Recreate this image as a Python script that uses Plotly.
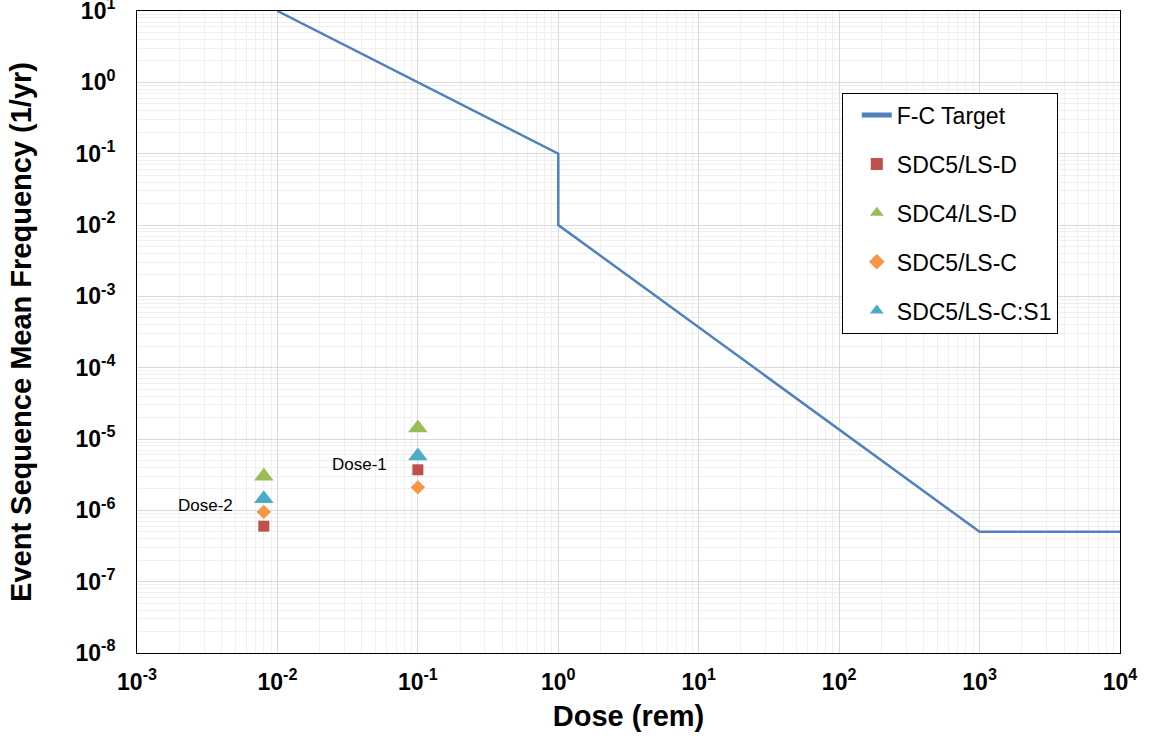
import math
import plotly.graph_objects as go

# F-C target curve
fc_dose = [0.01, 1.0, 1.0, 1000.0, 10000.0]
fc_freq = [10.0, 0.1, 0.01, 5e-7, 5e-7]

# Dose points: Dose-2, Dose-1
dose_x = [0.008, 0.1]
sdc5_lsd = [6.0e-7, 3.7e-6]
sdc4_lsd = [3.0e-6, 1.43e-5]
sdc5_lsc = [9.5e-7, 2.1e-6]
sdc5_lsc_s1 = [1.45e-6, 5.8e-6]
dose_labels = ["Dose-2", "Dose-1"]
dose_label_y = [1.16e-6, 4.35e-6]

x_exps = list(range(-3, 5))
y_exps = list(range(-8, 2))

fig = go.Figure()
fig.add_trace(go.Scatter(x=fc_dose, y=fc_freq, mode="lines", name="F-C Target", legendgroup="a",
                         line=dict(color="#4F81BD", width=2.5)))
fig.add_trace(go.Scatter(x=dose_x, y=sdc5_lsd, mode="markers", name="SDC5/LS-D", legendgroup="b",
                         marker=dict(symbol="square", color="#C0504D", size=11)))
fig.add_trace(go.Scatter(x=dose_x, y=sdc4_lsd, mode="markers", name="SDC4/LS-D", legendgroup="c",
                         marker=dict(symbol="triangle-up", color="#9BBB59", size=17)))
fig.add_trace(go.Scatter(x=dose_x, y=sdc5_lsc, mode="markers", name="SDC5/LS-C", legendgroup="d",
                         marker=dict(symbol="diamond", color="#F79646", size=11)))
fig.add_trace(go.Scatter(x=dose_x, y=sdc5_lsc_s1, mode="markers", name="SDC5/LS-C:S1", legendgroup="e",
                         marker=dict(symbol="triangle-up", color="#4BACC6", size=17)))

for xv, yv, txt in zip(dose_x, dose_label_y, dose_labels):
    fig.add_annotation(x=math.log10(xv), y=math.log10(yv), xref="x", yref="y", text=txt,
                       showarrow=False, xanchor="right", yanchor="middle", xshift=-29,
                       font=dict(family="Liberation Sans, Arial", size=17, color="#000"))

x_minor = [m * 10 ** e for e in x_exps[:-1] for m in range(2, 10)]
y_minor = [m * 10 ** e for e in y_exps[:-1] for m in range(2, 10)]

font_family = "Liberation Sans, Arial"
tickfont = dict(family=font_family, size=23, color="#000")
fig.update_xaxes(type="log", range=[-3, 4],
                 tickvals=[10 ** e for e in x_exps],
                 ticktext=[f"<b>10<sup>{e}</sup></b>" for e in x_exps],
                 tickfont=tickfont, ticks="", ticklabelstandoff=8, ticklabeloverflow="allow",
                 showgrid=True, gridcolor="#D9D9D9", gridwidth=1,
                 minor=dict(tickvals=x_minor, showgrid=True, gridcolor="#EFEFEF", gridwidth=1),
                 showline=True, linecolor="#000", linewidth=1, mirror=True, zeroline=False,
                 title=dict(text="<b>Dose (rem)</b>", font=dict(family=font_family, size=29, color="#000"), standoff=12))
fig.update_yaxes(type="log", range=[-8, 1],
                 tickvals=[10 ** e for e in y_exps],
                 ticktext=[f"<b>10<sup>{e}</sup></b>" for e in y_exps],
                 tickfont=tickfont, ticks="", ticklabelstandoff=16, ticklabeloverflow="allow",
                 showgrid=True, gridcolor="#D9D9D9", gridwidth=1,
                 minor=dict(tickvals=y_minor, showgrid=True, gridcolor="#EFEFEF", gridwidth=1),
                 showline=True, linecolor="#000", linewidth=1, mirror=True, zeroline=False,
                 title=dict(text="<b>Event Sequence Mean Frequency (1/yr)</b>", font=dict(family=font_family, size=29, color="#000"), standoff=35))

fig.update_layout(
    width=1157, height=738,
    margin=dict(l=137, r=37, t=11, b=85, autoexpand=False),
    plot_bgcolor="white", paper_bgcolor="white",
    legend=dict(x=0.717, y=0.873, xanchor="left", yanchor="top",
                bordercolor="#000", borderwidth=1, bgcolor="white",
                font=dict(family=font_family, size=23, color="#000"),
                tracegroupgap=16, itemsizing="constant", indentation=14,
                entrywidth=170, entrywidthmode="pixels"),
)

fig.write_html("out.html", config={"displayModeBar": False},
               post_script="document.body.style.margin='0px';")
